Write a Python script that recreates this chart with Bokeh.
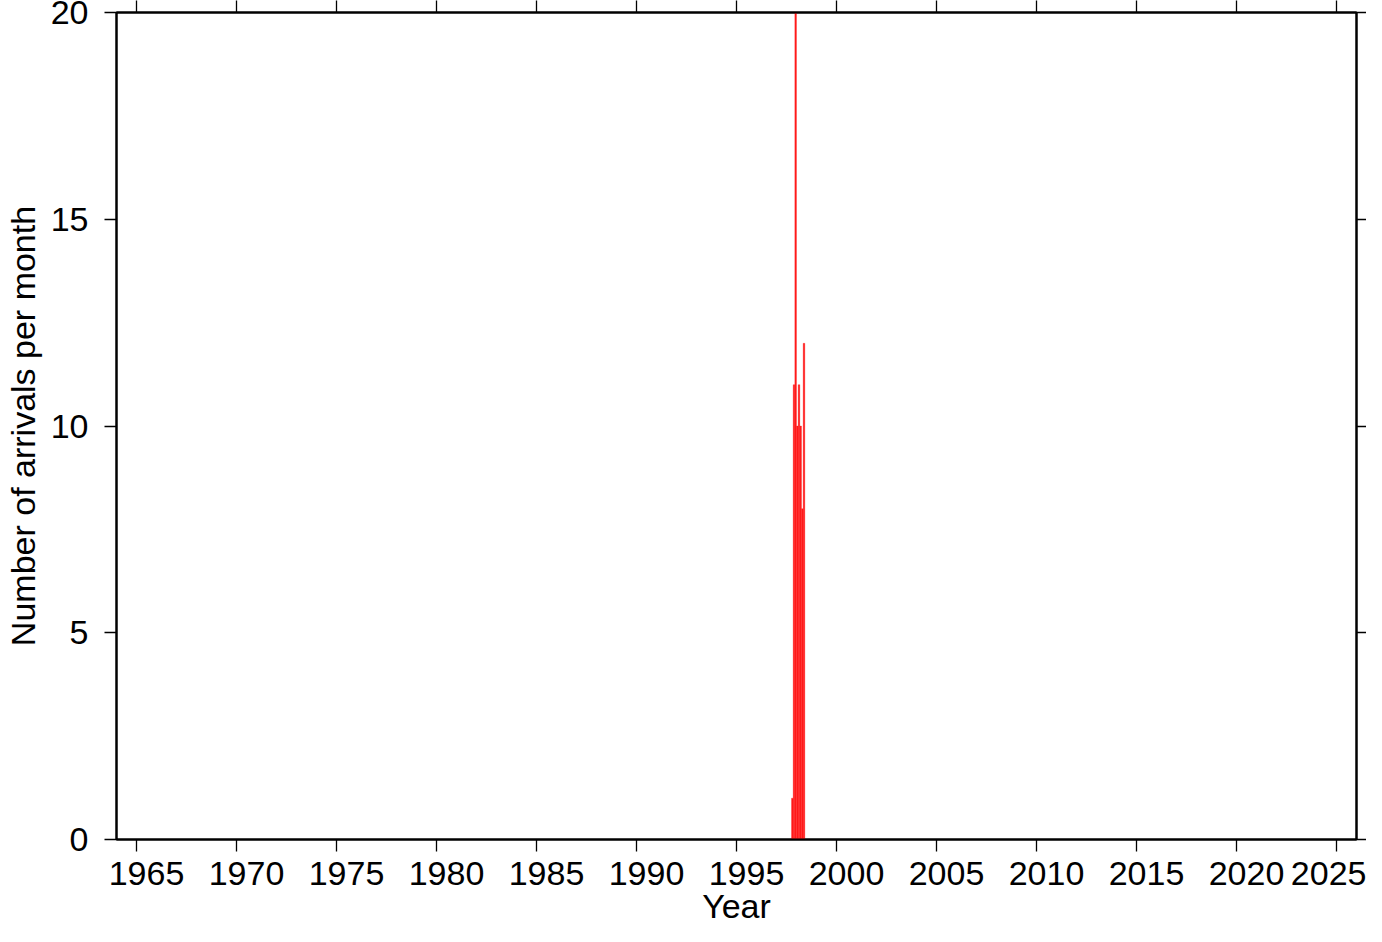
from bokeh.plotting import figure
from bokeh.models import LinearAxis, FixedTicker, Range1d, ColumnDataSource
from bokeh.embed import file_html
from bokeh.resources import INLINE

# ---- data ----
months = ["1997-10", "1997-11", "1997-12", "1998-01", "1998-02", "1998-03", "1998-04", "1998-05"]
counts = [1, 11, 24, 10, 11, 10, 8, 12]
year_ticks = [1965, 1970, 1975, 1980, 1985, 1990, 1995, 2000, 2005, 2010, 2015, 2020, 2025]
count_ticks = [0, 5, 10, 15, 20]
x_label = "Year"
y_label = "Number of arrivals per month"

FONT = "Liberation Sans"
FS = "34px"

x_center = [int(m[:4]) + (int(m[5:]) - 0.5) / 12.0 for m in months]
src = ColumnDataSource(dict(x=x_center, top=counts))

p = figure(frame_width=1240, frame_height=827,
           x_range=Range1d(1964, 2026), y_range=Range1d(0, 20),
           output_backend="svg", toolbar_location=None,
           x_axis_location=None, y_axis_location=None,
           min_border_left=116, min_border_top=12, min_border_right=10, min_border_bottom=10)
p.grid.visible = False
p.outline_line_color = "black"
p.outline_line_width = 2
p.background_fill_color = "white"
p.border_fill_color = "white"

p.vbar(x="x", top="top", width=1 / 12.0, bottom=0, source=src,
       fill_color="#ff1a1a", line_color="#ff1a1a", line_width=0.3)

def style(ax, tick_out, labels=True):
    ax.axis_line_color = "black"
    ax.axis_line_width = 2
    ax.major_tick_out = tick_out
    ax.major_tick_in = 0
    ax.minor_tick_out = 0
    ax.minor_tick_in = 0
    ax.major_tick_line_width = 1.3
    ax.major_tick_line_color = "black"
    ax.major_label_text_font = FONT
    ax.major_label_text_color = "black"
    ax.axis_label_text_font = FONT
    ax.axis_label_text_font_style = "normal"
    ax.axis_label_text_font_size = FS
    ax.axis_label_text_color = "black"
    if labels:
        ax.major_label_text_font_size = FS
    else:
        ax.major_label_text_font_size = "0px"
        ax.major_label_text_color = None
        ax.major_label_standoff = 0

# left axis
left = LinearAxis(ticker=FixedTicker(ticks=count_ticks), axis_label=y_label)
style(left, 12)
left.major_label_standoff = 16
left.axis_label_standoff = 6
p.add_layout(left, "left")

# right axis (ticks only)
right = LinearAxis(ticker=FixedTicker(ticks=count_ticks))
style(right, 10, labels=False)
p.add_layout(right, "right")

# top axis (ticks only)
top = LinearAxis(ticker=FixedTicker(ticks=year_ticks))
style(top, 12, labels=False)
p.add_layout(top, "above")

# bottom axis: ticks
bottom = LinearAxis(ticker=FixedTicker(ticks=year_ticks))
style(bottom, 12, labels=False)
p.add_layout(bottom, "below")

# bottom axis: labels (GMT-style annotations sit slightly right of the ticks)
lab_ticks = [y + 0.5 for y in year_ticks]
bottom_lab = LinearAxis(ticker=FixedTicker(ticks=lab_ticks), axis_label=x_label,
                        major_label_overrides={t: str(y) for t, y in zip(lab_ticks, year_ticks)})
style(bottom_lab, 0)
bottom_lab.axis_line_color = None
bottom_lab.major_tick_line_color = None
bottom_lab.major_label_standoff = 10
bottom_lab.axis_label_standoff = -1
p.add_layout(bottom_lab, "below")

open("out.html", "w").write(file_html(p, INLINE))
